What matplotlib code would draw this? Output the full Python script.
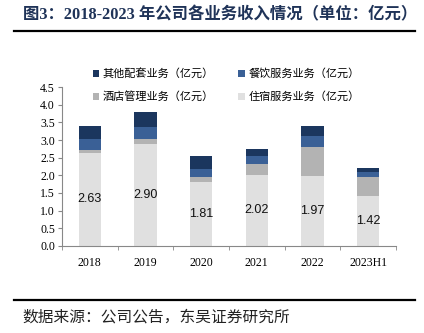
import matplotlib
matplotlib.use('Agg')
import matplotlib.pyplot as plt
import numpy as np

plt.rcParams['font.family'] = ['Liberation Serif', 'Noto Sans CJK SC']

years = ['2018', '2019', '2020', '2021', '2022', '2023H1']
lodging = [2.63, 2.90, 1.81, 2.02, 1.97, 1.42]   # 住宿服务业务
hotel_mgmt = [0.10, 0.12, 0.14, 0.30, 0.83, 0.52]  # 酒店管理业务
catering = [0.31, 0.36, 0.24, 0.24, 0.33, 0.16]   # 餐饮服务业务
other = [0.36, 0.43, 0.36, 0.20, 0.28, 0.10]      # 其他配套业务

names = ['住宿服务业务（亿元）', '酒店管理业务（亿元）', '餐饮服务业务（亿元）', '其他配套业务（亿元）']
colors = ['#e0e0e0', '#b3b3b3', '#3a6096', '#1b365e']

fig = plt.figure(figsize=(4.24, 3.33), dpi=100)
ax = fig.add_axes([0.146, 0.262, 0.788, 0.476])

x = np.arange(len(years))
bottom = np.zeros(len(years))
bars = []
for vals, name, c in zip([lodging, hotel_mgmt, catering, other], names, colors):
    b = ax.bar(x, vals, 0.4, bottom=bottom, color=c, label=name)
    bars.append(b)
    bottom += np.array(vals)

ax.bar_label(bars[0], labels=[f'{v:.2f}' for v in lodging], label_type='center',
             fontsize=9, family='Liberation Sans', color='#111111')

ax.set_xlim(-0.5, len(years) - 0.5)
ax.set_ylim(0, 4.5)
ax.set_yticks(np.arange(0, 4.51, 0.5))
ax.set_yticklabels([f'{v:.1f}' for v in np.arange(0, 4.51, 0.5)])
ax.set_xticks(x)
ax.set_xticklabels(years)
ax.set_xticks(np.arange(-0.5, len(years)), minor=True)
ax.tick_params(axis='x', which='major', length=0, pad=8, labelsize=8.5)
ax.tick_params(axis='x', which='minor', length=3, color='#888888')
ax.tick_params(axis='y', length=3, color='#888888', labelsize=8.5, pad=2)
for s in ['top', 'right']:
    ax.spines[s].set_visible(False)
for s in ['left', 'bottom']:
    ax.spines[s].set_color('#888888')
    ax.spines[s].set_linewidth(0.8)

# legend: two rows, other/catering on top, hotel/lodging below
h = [bars[3], bars[1], bars[2], bars[0]]
l = [names[3], names[1], names[2], names[0]]
fig.legend(h, l, ncol=2, loc='upper left', bbox_to_anchor=(0.195, 0.825),
           frameon=False, handlelength=0.6, handleheight=0.6,
           handletextpad=0.3, columnspacing=2.2, labelspacing=1.1,
           prop={'family': ['Noto Sans CJK SC'], 'size': 8})

fig.text(0.054, 0.953, '图3：2018-2023 年公司各业务收入情况（单位：亿元）',
         fontsize=11.8, fontweight='bold', color='#1f3358', va='center')
fig.add_artist(plt.Line2D([0.033, 0.979], [0.907, 0.907], color='black', lw=1.6))
fig.add_artist(plt.Line2D([0.033, 0.979], [0.099, 0.099], color='black', lw=1.6))
fig.text(0.054, 0.045, '数据来源：公司公告，东吴证券研究所', fontsize=11.3,
         color='#222222', va='center')

fig.savefig('out.png', dpi=100)
